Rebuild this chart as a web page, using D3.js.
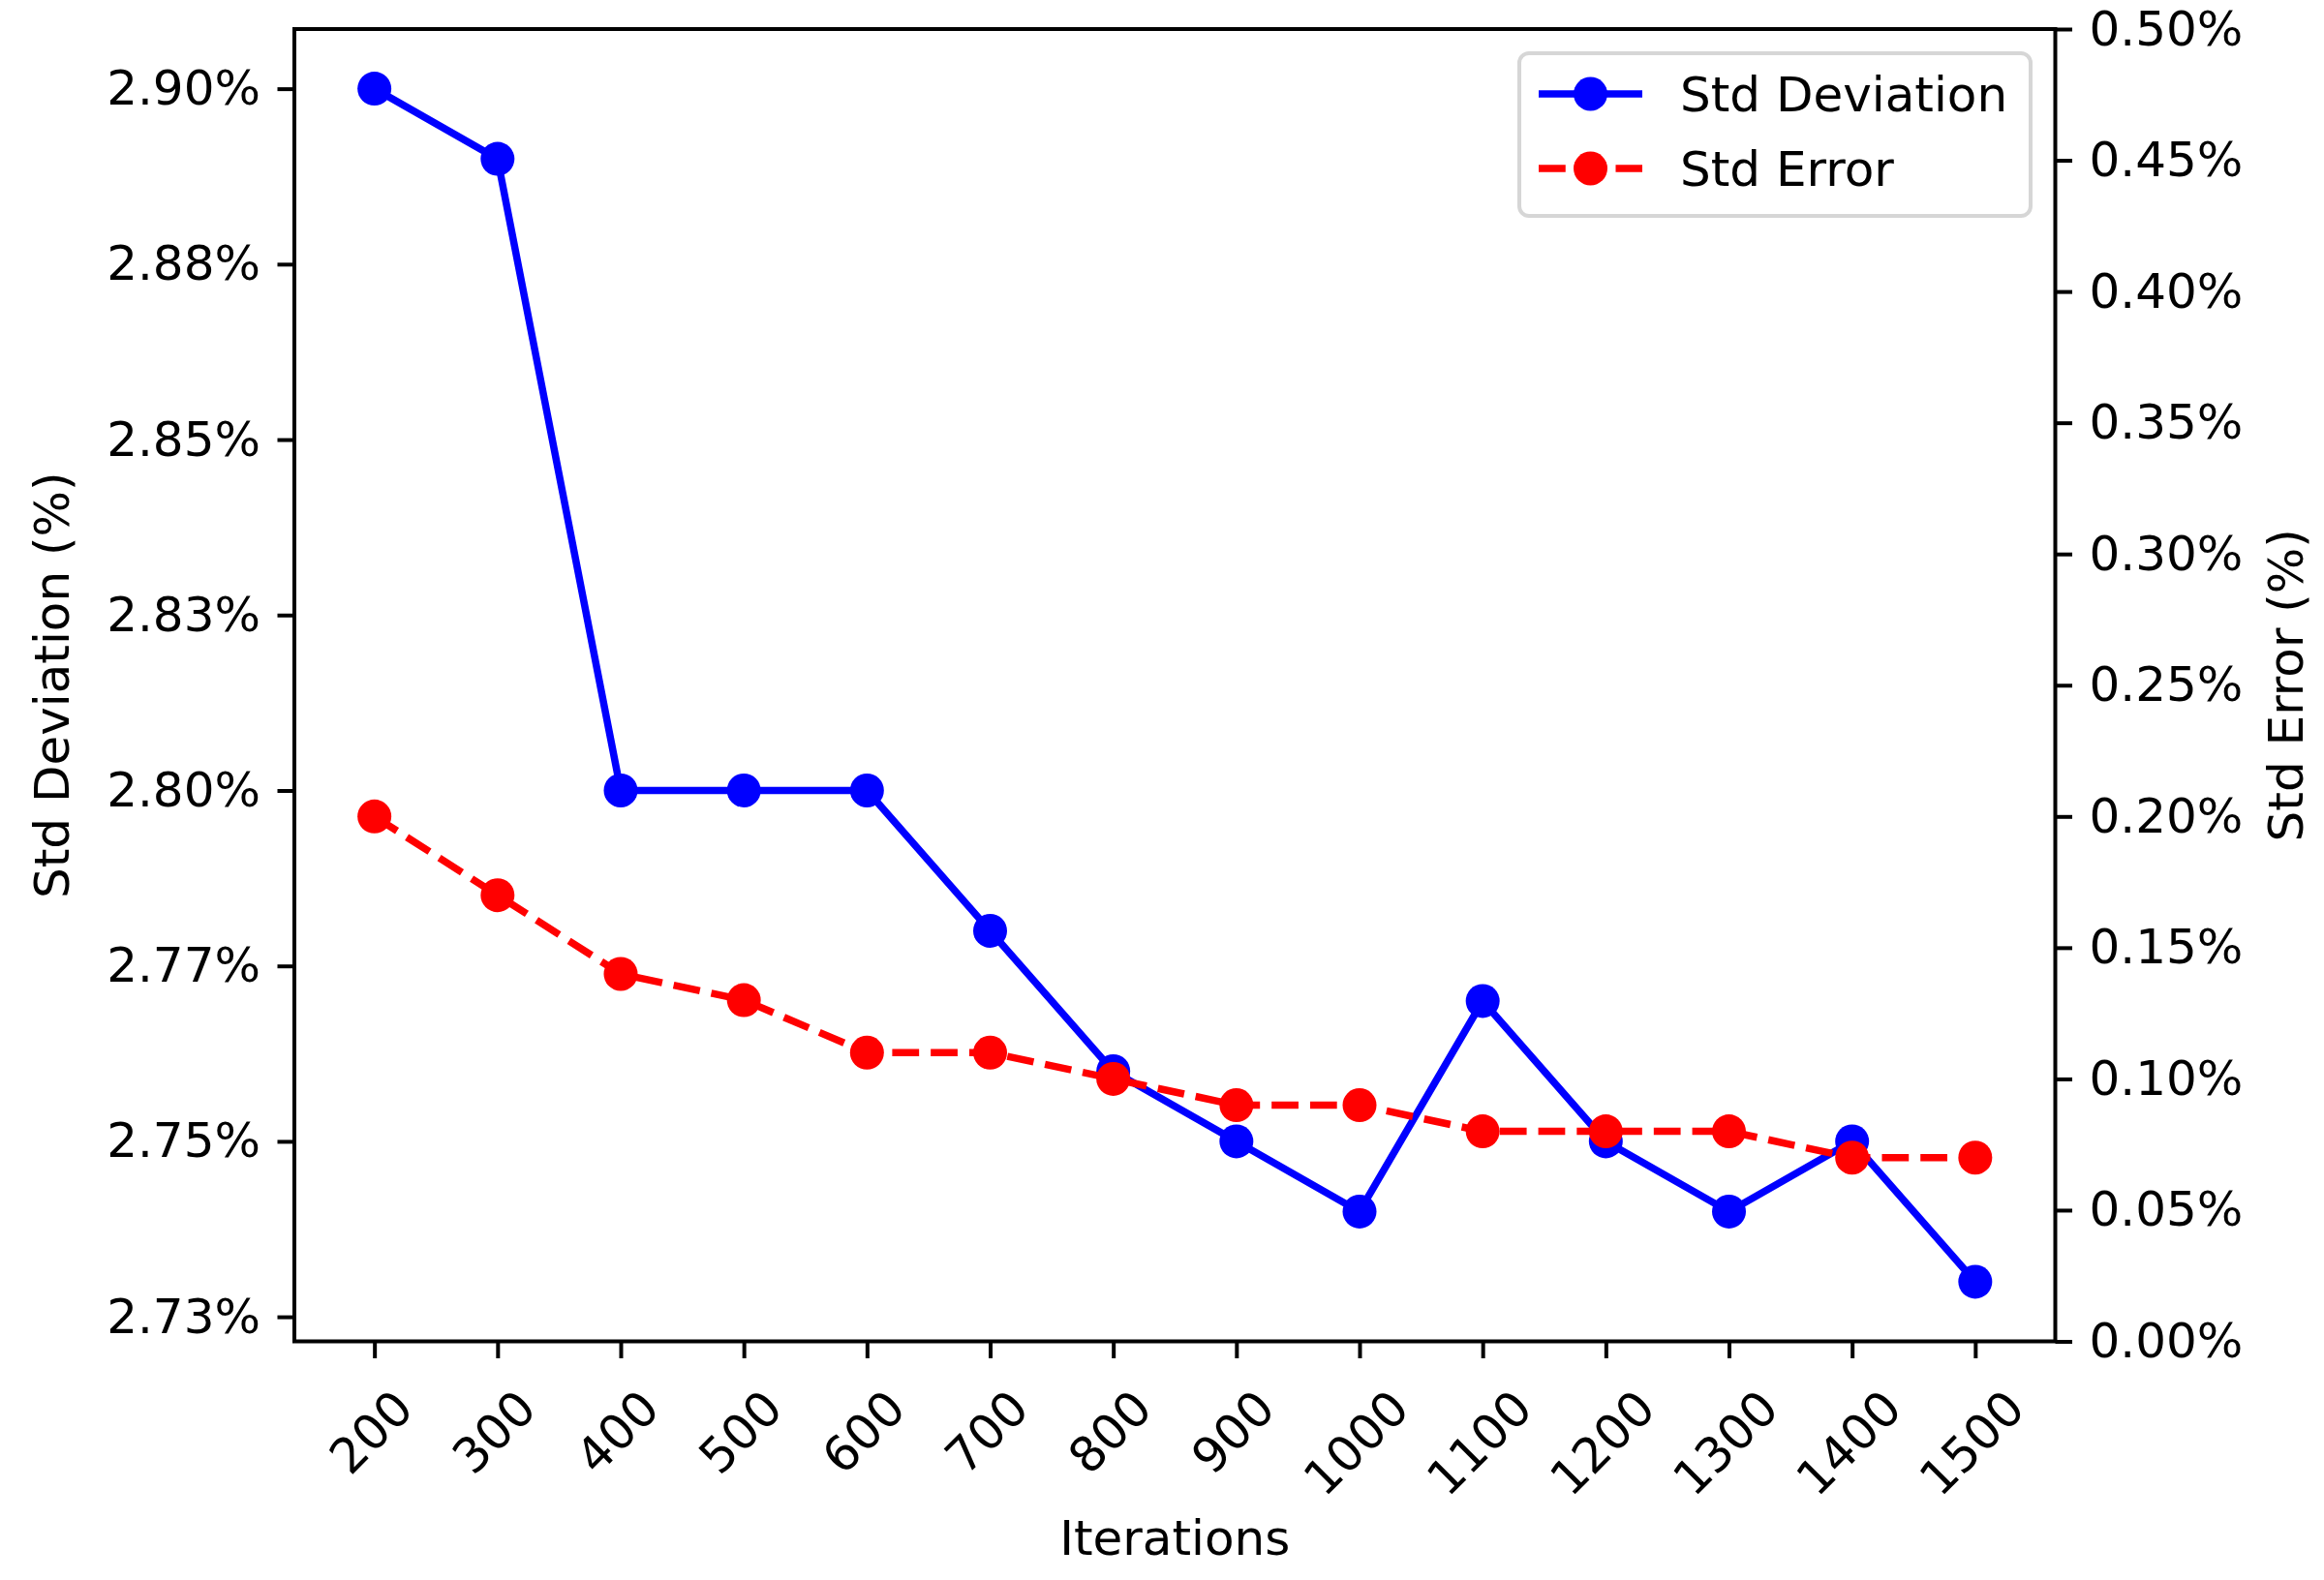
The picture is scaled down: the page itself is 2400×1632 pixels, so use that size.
<!DOCTYPE html>
<html>
<head>
<meta charset="utf-8">
<script src="https://cdn.jsdelivr.net/npm/d3@7"></script>
<style>
  html, body { margin: 0; padding: 0; background: #ffffff; }
  svg { display: block; }
  text { font-family: "DejaVu Sans", sans-serif; fill: #000; }
</style>
</head>
<body>
<svg id="chart" width="2400" height="1632"></svg>
<script>
// ---- data ----
const iterations = [200, 300, 400, 500, 600, 700, 800, 900, 1000, 1100, 1200, 1300, 1400, 1500];
const stdDeviation = [2.90, 2.89, 2.80, 2.80, 2.80, 2.78, 2.76, 2.75, 2.74, 2.77, 2.75, 2.74, 2.75, 2.73];
const stdError = [0.20, 0.17, 0.14, 0.13, 0.11, 0.11, 0.10, 0.09, 0.09, 0.08, 0.08, 0.08, 0.07, 0.07];
const leftTicks = [2.725, 2.75, 2.775, 2.8, 2.825, 2.85, 2.875, 2.9];
const leftTickLabels = ["2.73%", "2.75%", "2.77%", "2.80%", "2.83%", "2.85%", "2.88%", "2.90%"];
const rightTicks = [0, 0.05, 0.1, 0.15, 0.2, 0.25, 0.3, 0.35, 0.4, 0.45, 0.5];
const rightTickLabels = ["0.00%", "0.05%", "0.10%", "0.15%", "0.20%", "0.25%", "0.30%", "0.35%", "0.40%", "0.45%", "0.50%"];
const seriesNames = ["Std Deviation", "Std Error"];

// ---- layout ----
const W = 2400, H = 1632;
const L = 304, R = 2122.5, T = 30, B = 1385.5;
const FS = 50;
const tickLen = 17.5, tickPad = 17.5, tickW = 4;
const lw = 7.5, mr = 17.5;
const blue = "#0000ff", red = "#ff0000";
const dash = "27.75,12";

const svg = d3.select("#chart");
svg.append("rect").attr("width", W).attr("height", H).attr("fill", "#fff");

function padExtent(arr, f) {
  const [a, b] = d3.extent(arr);
  const p = (b - a) * f;
  return [a - p, b + p];
}

const x = d3.scaleLinear().domain(padExtent(iterations, 0.05)).range([L, R]);
const yL = d3.scaleLinear().domain(padExtent(stdDeviation, 0.05)).range([B, T]);
const yR = d3.scaleLinear().domain([0, 0.5]).range([B, T]);

// ---- axes ----
const axL = svg.append("g").attr("transform", `translate(${L},0)`)
  .call(d3.axisLeft(yL).tickValues(leftTicks).tickFormat((d, i) => leftTickLabels[i])
    .tickSize(tickLen).tickPadding(tickPad));
const axR = svg.append("g").attr("transform", `translate(${R},0)`)
  .call(d3.axisRight(yR).tickValues(rightTicks).tickFormat((d, i) => rightTickLabels[i])
    .tickSize(tickLen).tickPadding(tickPad));
const axB = svg.append("g").attr("transform", `translate(0,${B})`)
  .call(d3.axisBottom(x).tickValues(iterations).tickFormat("")
    .tickSize(tickLen));

[axL, axR, axB].forEach(g => {
  g.select(".domain").remove();
  g.selectAll(".tick line").attr("stroke", "#000").attr("stroke-width", tickW);
  g.selectAll(".tick text").attr("font-size", FS).attr("font-family", "DejaVu Sans").attr("fill", "#000");
});

// rotated x tick labels
const xLab = svg.append("g");
iterations.forEach(v => {
  const t = xLab.append("text")
    .attr("font-size", FS)
    .attr("text-anchor", "middle")
    .attr("dominant-baseline", "central")
    .text(String(v));
  const w = t.node().getComputedTextLength();
  const side = (w + 36.5) * Math.SQRT1_2;
  const cx = x(v) - 5, cy = 1431 + side / 2;
  t.attr("transform", `translate(${cx},${cy}) rotate(-45)`).attr("dy", "0.05em");
});

// ---- series ----
const lineL = d3.line().x((d, i) => x(iterations[i])).y(d => yL(d));
const lineR = d3.line().x((d, i) => x(iterations[i])).y(d => yR(d));

svg.append("path").datum(stdDeviation).attr("d", lineL)
  .attr("fill", "none").attr("stroke", blue).attr("stroke-width", lw)
  .attr("stroke-linejoin", "round").attr("stroke-linecap", "square");
svg.append("g").selectAll("circle").data(stdDeviation).join("circle")
  .attr("cx", (d, i) => x(iterations[i])).attr("cy", d => yL(d)).attr("r", mr).attr("fill", blue);

svg.append("path").datum(stdError).attr("d", lineR)
  .attr("fill", "none").attr("stroke", red).attr("stroke-width", lw)
  .attr("stroke-dasharray", dash).attr("stroke-linejoin", "round");
svg.append("g").selectAll("circle").data(stdError).join("circle")
  .attr("cx", (d, i) => x(iterations[i])).attr("cy", d => yR(d)).attr("r", mr).attr("fill", red);

// ---- spines ----
svg.append("rect").attr("x", L).attr("y", T).attr("width", R - L).attr("height", B - T)
  .attr("fill", "none").attr("stroke", "#000").attr("stroke-width", 4);

// ---- axis labels ----
svg.append("text").attr("font-size", FS).attr("text-anchor", "middle")
  .attr("transform", `translate(71,${(T + B) / 2}) rotate(-90)`).text("Std Deviation (%)");
svg.append("text").attr("font-size", FS).attr("text-anchor", "middle")
  .attr("transform", `translate(2378,${(T + B) / 2}) rotate(-90)`).text("Std Error (%)");
svg.append("text").attr("font-size", FS).attr("text-anchor", "middle")
  .attr("x", (L + R) / 2).attr("y", 1606).text("Iterations");

// ---- legend ----
const leg = svg.append("g");
leg.append("rect").attr("x", 1569).attr("y", 55).attr("width", 528).attr("height", 168)
  .attr("rx", 10).attr("ry", 10)
  .attr("fill", "#fff").attr("fill-opacity", 0.8)
  .attr("stroke", "#d6d6d6").attr("stroke-width", 4);
const legRows = [
  { name: seriesNames[0], color: blue, dash: null, y: 97 },
  { name: seriesNames[1], color: red, dash: dash, y: 174 }
];
legRows.forEach(r => {
  const ln = leg.append("line").attr("x1", 1589).attr("x2", 1696).attr("y1", r.y).attr("y2", r.y)
    .attr("stroke", r.color).attr("stroke-width", lw);
  if (r.dash) ln.attr("stroke-dasharray", r.dash);
  leg.append("circle").attr("cx", 1642.5).attr("cy", r.y).attr("r", mr).attr("fill", r.color);
  leg.append("text").attr("font-size", FS).attr("x", 1735).attr("y", r.y + 18).text(r.name);
});
</script>
</body>
</html>
